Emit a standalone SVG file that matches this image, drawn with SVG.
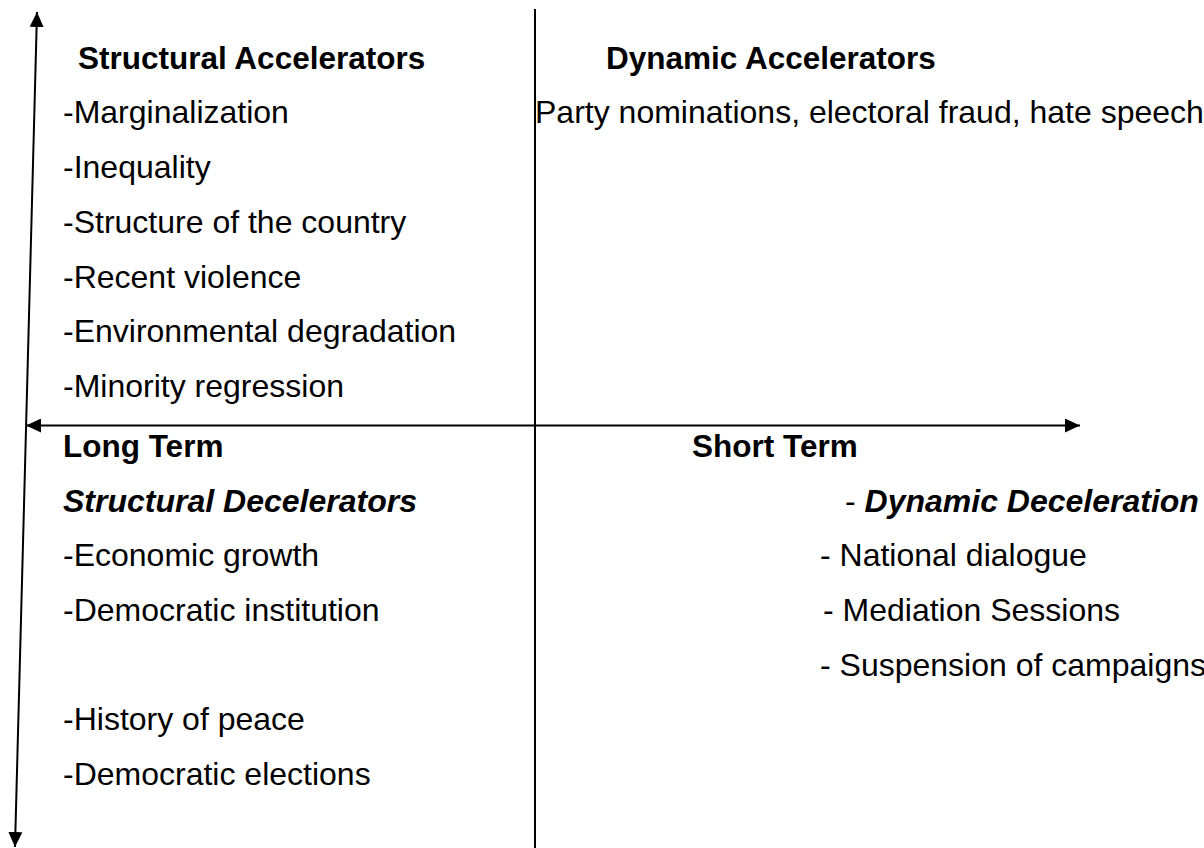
<svg xmlns="http://www.w3.org/2000/svg" width="1204" height="848" viewBox="0 0 1204 848">
<style>
text{font-family:"Liberation Sans",Arial,sans-serif;font-size:32px;fill:#000}
.b{font-weight:bold;font-size:31.5px}
.bi{font-weight:bold;font-style:italic}
.ln{stroke:#000;stroke-width:2;fill:none}
</style>
<defs>
<marker id="ah" viewBox="0 0 15 14" markerWidth="15" markerHeight="14" markerUnits="userSpaceOnUse" refX="15" refY="7" orient="auto-start-reverse">
<path d="M0,0 L15,7 L0,14 z" fill="#000"/>
</marker>
</defs>
<rect width="1204" height="848" fill="#fff"/>
<g id="connectors">
<line class="ln" x1="15" y1="847" x2="37" y2="12" marker-start="url(#ah)" marker-end="url(#ah)"/>
<line class="ln" x1="26" y1="425.5" x2="1080" y2="425.5" marker-start="url(#ah)" marker-end="url(#ah)"/>
<line class="ln" x1="535" y1="9" x2="535" y2="848"/>
</g>
<g id="structural-accelerators">
<text class="b" x="78" y="69">Structural Accelerators</text>
<text x="63" y="123">-Marginalization</text>
<text x="63" y="178">-Inequality</text>
<text x="63" y="233">-Structure of the country</text>
<text x="63" y="287.5">-Recent violence</text>
<text x="63" y="342">-Environmental degradation</text>
<text x="63" y="397">-Minority regression</text>
</g>
<g id="dynamic-accelerators">
<text class="b" x="606" y="69">Dynamic Accelerators</text>
<text x="535" y="123">Party nominations, electoral fraud, hate speech</text>
</g>
<g id="long-term">
<text class="b" x="63" y="456.5">Long Term</text>
</g>
<g id="short-term">
<text class="b" x="692" y="456.5">Short Term</text>
</g>
<g id="structural-decelerators">
<text class="bi" x="63" y="511.5">Structural Decelerators</text>
<text x="63" y="566">-Economic growth</text>
<text x="63" y="621">-Democratic institution</text>
<text x="63" y="730">-History of peace</text>
<text x="63" y="785">-Democratic elections</text>
</g>
<g id="dynamic-deceleration">
<text x="845" y="511.5">- <tspan class="bi">Dynamic Deceleration</tspan></text>
<text x="820" y="566">- National dialogue</text>
<text x="823" y="621">- Mediation Sessions</text>
<text x="820" y="675.5">- Suspension of campaigns</text>
</g>
</svg>
